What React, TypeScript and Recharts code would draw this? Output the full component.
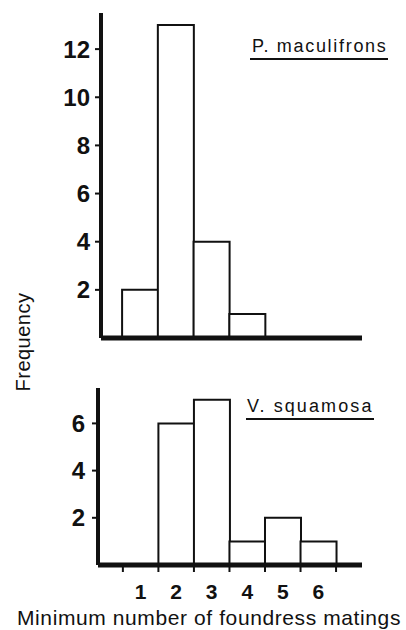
import React from 'react';
import { BarChart, Bar, XAxis, YAxis } from 'recharts';

const bins = [1, 2, 3, 4, 5, 6];
const maculifrons = [2, 13, 4, 1, 0, 0];
const squamosa = [0, 6, 7, 1, 2, 1];
const topTicks = [2, 4, 6, 8, 10, 12];
const bottomTicks = [2, 4, 6];
const binEdges = [0.5, 1.5, 2.5, 3.5, 4.5, 5.5, 6.5];

const topData = bins.map((k, i) => ({ k, v: maculifrons[i] }));
const bottomData = bins.map((k, i) => ({ k, v: squamosa[i] }));

const INK = '#111';
const FONT = '"Liberation Sans", Arial, sans-serif';

const yTick = { fill: INK, fontSize: 24, fontWeight: 700, fontFamily: FONT };

export default function App() {
  return (
    <div style={{ position: 'absolute', left: 0, top: 0, width: 406, height: 630, background: '#fff', fontFamily: FONT, color: INK }}>
      {/* top panel */}
      <div style={{ position: 'absolute', left: 0, top: 0 }}>
        <BarChart width={406} height={350} data={topData} margin={{ top: 13, right: 44, bottom: 0, left: 41 }} barCategoryGap={0}>
          <XAxis
            dataKey="k"
            type="number"
            domain={[-0.09, 7.21]}
            allowDataOverflow
            height={12}
            tick={false}
            tickLine={false}
            axisLine={{ stroke: INK, strokeWidth: 5 }}
          />
          <YAxis
            width={60}
            domain={[0, 13.5]}
            allowDataOverflow
            ticks={topTicks}
            tick={yTick}
            tickSize={6}
            tickMargin={5}
            tickLine={{ stroke: INK, strokeWidth: 2 }}
            axisLine={{ stroke: INK, strokeWidth: 4 }}
          />
          <Bar dataKey="v" fill="#fff" stroke={INK} strokeWidth={2} isAnimationActive={false} />
        </BarChart>
      </div>

      {/* bottom panel */}
      <div style={{ position: 'absolute', left: 0, top: 370 }}>
        <BarChart width={406} height={260} data={bottomData} margin={{ top: 18, right: 44, bottom: 0, left: 38 }} barCategoryGap={0}>
          <XAxis
            dataKey="k"
            type="number"
            domain={[-0.2, 7.23]}
            allowDataOverflow
            ticks={binEdges}
            tickFormatter={() => ''}
            height={8}
            tickSize={7}
            tickLine={{ stroke: INK, strokeWidth: 2 }}
            axisLine={{ stroke: INK, strokeWidth: 5 }}
          />
          <XAxis
            xAxisId="lbl"
            dataKey="k"
            type="number"
            domain={[-0.2, 7.23]}
            allowDataOverflow
            ticks={bins}
            height={57}
            axisLine={false}
            tickLine={false}
            tickMargin={5}
            tick={{ fill: INK, fontSize: 21, fontWeight: 700, fontFamily: FONT }}
          />
          <YAxis
            width={60}
            domain={[0, 7.5]}
            allowDataOverflow
            ticks={bottomTicks}
            tick={yTick}
            tickSize={6}
            tickMargin={7}
            tickLine={{ stroke: INK, strokeWidth: 2 }}
            axisLine={{ stroke: INK, strokeWidth: 4 }}
          />
          <Bar dataKey="v" fill="#fff" stroke={INK} strokeWidth={2} isAnimationActive={false} />
        </BarChart>
      </div>

      {/* species labels */}
      <div style={{ position: 'absolute', left: 250, top: 37, fontSize: 18, lineHeight: '18px', letterSpacing: 1.7, paddingLeft: 2, paddingBottom: 3, borderBottom: `2px solid ${INK}`, whiteSpace: 'nowrap' }}>
        P. maculifrons
      </div>
      <div style={{ position: 'absolute', left: 246, top: 397, fontSize: 18, lineHeight: '18px', letterSpacing: 2.1, paddingLeft: 1, paddingBottom: 3, borderBottom: `2px solid ${INK}`, whiteSpace: 'nowrap' }}>
        V. squamosa
      </div>

      {/* axis titles */}
      <div style={{ position: 'absolute', left: 23, top: 342, fontSize: 20, lineHeight: '20px', letterSpacing: 0.5, whiteSpace: 'nowrap', transform: 'translate(-50%, -50%) rotate(-90deg)' }}>
        Frequency
      </div>
      <div style={{ position: 'absolute', left: 17, top: 607, fontSize: 21, lineHeight: '21px', letterSpacing: 0.6, whiteSpace: 'nowrap' }}>
        Minimum number of foundress matings
      </div>
    </div>
  );
}
